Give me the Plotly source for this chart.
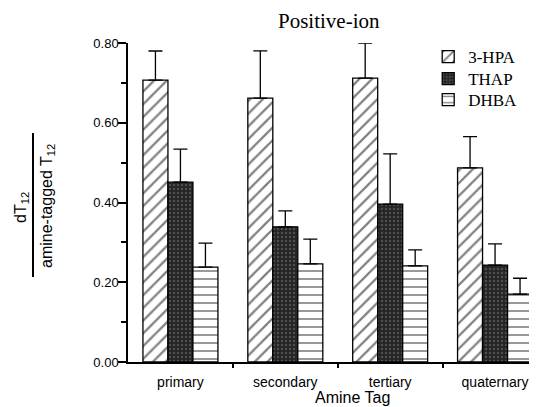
import plotly.graph_objects as go

categories = ["primary", "secondary", "tertiary", "quaternary"]
series_names = ["3-HPA", "THAP", "DHBA"]
hpa = [0.707, 0.662, 0.712, 0.487]
hpa_err = [0.073, 0.118, 0.088, 0.078]
thap = [0.451, 0.339, 0.396, 0.243]
thap_err = [0.083, 0.040, 0.126, 0.053]
dhba = [0.238, 0.246, 0.241, 0.170]
dhba_err = [0.060, 0.062, 0.040, 0.040]
y_ticks = [0.0, 0.2, 0.4, 0.6, 0.8]
y_tick_labels = ["0.00", "0.20", "0.40", "0.60", "0.80"]

xs = list(range(len(categories)))

styles = [
    dict(color="white", pattern=dict(shape="/", fgcolor="black", bgcolor="white", size=9, solidity=0.25)),
    dict(color="#2a2a2a", pattern=dict(shape=".", fgcolor="#7a7a7a", bgcolor="#242424", size=4, solidity=0.3)),
    dict(color="white", pattern=dict(shape="-", fgcolor="black", bgcolor="white", size=8, solidity=0.2)),
]

# page body has an 8px margin: figure is drawn 8px shorter/narrower, margins shifted
legend_names = ["legend", "legend2", "legend3"]
legend_y = [(362 - 39) / 319, (362 - 61) / 319, (362 - 82) / 319]

fig = go.Figure()
for name, vals, errs, st, lg in zip(series_names, [hpa, thap, dhba], [hpa_err, thap_err, dhba_err], styles, legend_names):
    fig.add_trace(go.Bar(
        x=xs, y=vals, name=name, legend=lg,
        marker=dict(color=st["color"], pattern=st["pattern"], line=dict(color="black", width=1.3)),
        error_y=dict(type="data", symmetric=False, array=errs, arrayminus=[0] * len(errs),
                     color="black", thickness=1.3, width=7),
        cliponaxis=False,
    ))

legend_common = dict(x=0.734, xanchor="left", yanchor="top",
                     font=dict(family="Liberation Serif", size=17, color="black"),
                     bgcolor="rgba(0,0,0,0)")

fig.update_layout(
    width=529, height=399,
    margin=dict(l=120, r=0, t=35, b=45),
    paper_bgcolor="white", plot_bgcolor="white",
    barmode="group", bargap=0.285, bargroupgap=0,
    showlegend=True,
    legend=dict(y=legend_y[0], **legend_common),
    legend2=dict(y=legend_y[1], **legend_common),
    legend3=dict(y=legend_y[2], **legend_common),
    xaxis=dict(range=[-0.5, 3.4], tickvals=xs, ticktext=categories, ticks="", ticklabelstandoff=6,
               showline=True, linecolor="black", linewidth=1.5, showgrid=False, zeroline=False,
               tickfont=dict(family="Liberation Sans", size=14, color="black"),
               minor=dict(tickvals=[0.5, 1.5, 2.5], ticks="outside", ticklen=4, tickcolor="black", tickwidth=1.5)),
    yaxis=dict(range=[0, 0.8], tickvals=y_ticks, ticktext=y_tick_labels, ticks="outside", ticklen=8,
               tickwidth=1.5, tickcolor="black", ticklabelstandoff=-3,
               showline=True, linecolor="black", linewidth=1.5, showgrid=False, zeroline=False,
               tickfont=dict(family="Liberation Sans", size=13, color="black"),
               minor=dict(dtick=0.1, tick0=0, ticks="outside", ticklen=5, tickcolor="black", tickwidth=1.5)),
    font=dict(family="Liberation Sans", color="black"),
)

fig.add_annotation(text="Positive-ion", xref="paper", yref="paper", x=(329 - 128) / 409, y=(362 - 21) / 319,
                   showarrow=False, font=dict(family="Liberation Serif", size=21, color="black"),
                   xanchor="center", yanchor="middle")
fig.add_annotation(text="Amine Tag", xref="paper", yref="paper", x=(352 - 128) / 409, y=(362 - 397) / 319,
                   showarrow=False, font=dict(family="Liberation Sans", size=16, color="black"),
                   xanchor="center", yanchor="middle")
fig.add_annotation(text="dT<sub>12</sub>", xref="paper", yref="paper", x=(22 - 128) / 409, y=(362 - 208) / 319,
                   showarrow=False, textangle=-90, font=dict(family="Liberation Sans", size=16, color="black"),
                   xanchor="center", yanchor="middle")
fig.add_annotation(text="amine-tagged T<sub>12</sub>", xref="paper", yref="paper", x=(47 - 128) / 409,
                   y=(362 - 206) / 319, showarrow=False, textangle=-90,
                   font=dict(family="Liberation Sans", size=16, color="black"),
                   xanchor="center", yanchor="middle")
fig.add_shape(type="line", xref="paper", yref="paper", x0=(33 - 128) / 409, x1=(33 - 128) / 409,
              y0=(362 - 133) / 319, y1=(362 - 277) / 319, line=dict(color="black", width=2))

fig.write_html("out.html")
